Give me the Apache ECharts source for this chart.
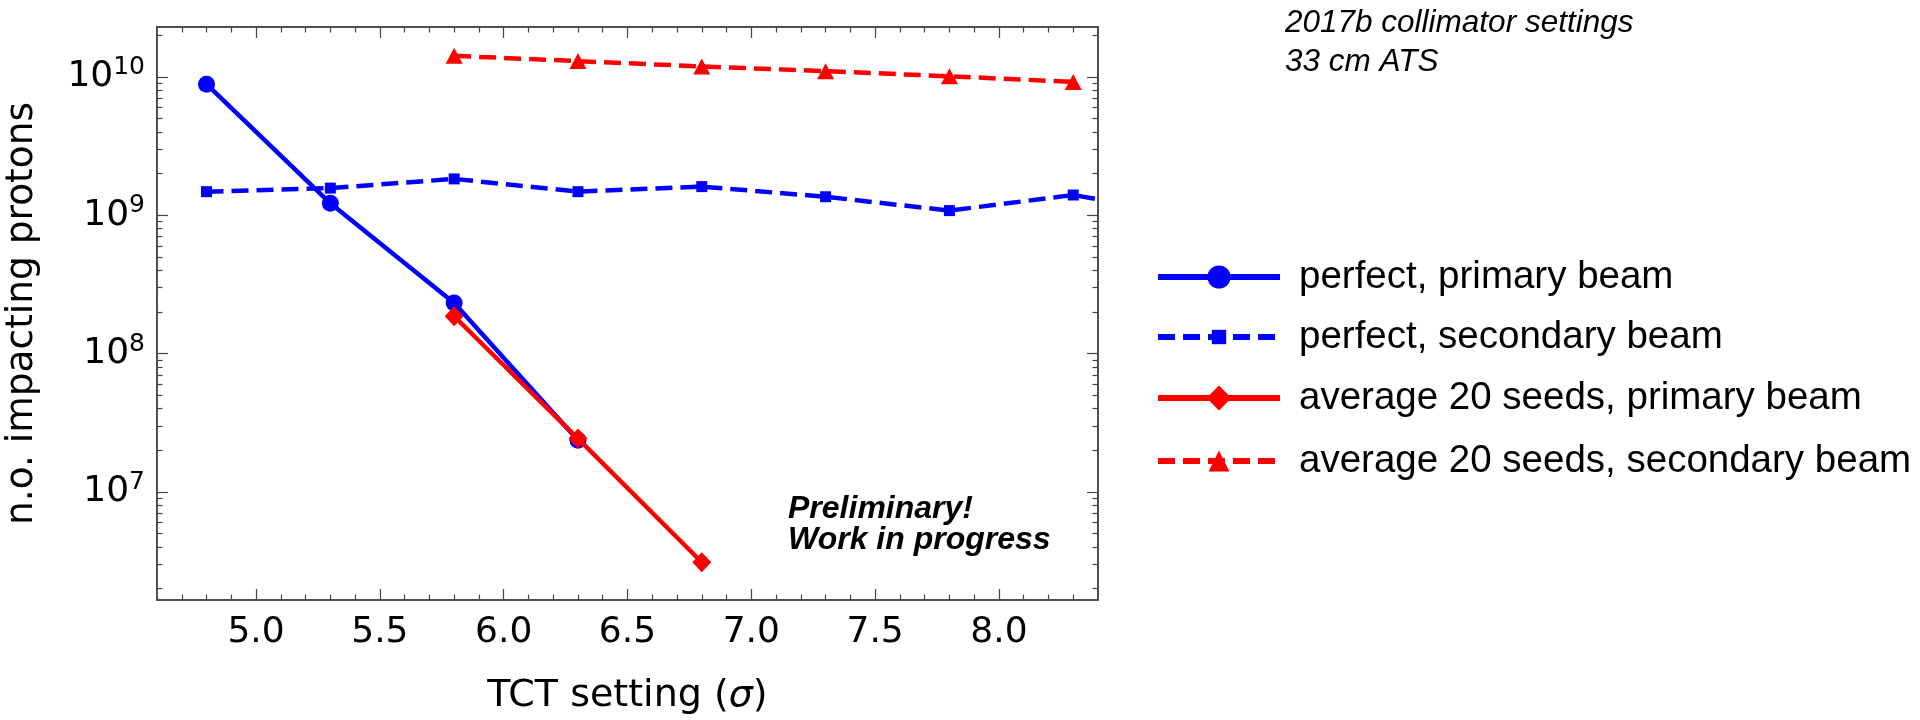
<!DOCTYPE html>
<html><head><meta charset="utf-8">
<script src="https://cdn.jsdelivr.net/npm/echarts@6/dist/echarts.min.js"></script>
<style>html,body{margin:0;padding:0;background:#fff}#c{width:1920px;height:720px}</style>
</head><body><div id="c"></div>
<script>
// ---- data ----
const perfPrimaryX = [4.8, 5.3, 5.8, 6.3];
const perfPrimaryY = [8.86e9, 1.22e9, 2.32e8, 2.36e7];
const perfSecondaryX = [4.8, 5.3, 5.8, 6.3, 6.8, 7.3, 7.8, 8.3, 8.8];
const perfSecondaryY = [1.48e9, 1.57e9, 1.83e9, 1.48e9, 1.61e9, 1.36e9, 1.08e9, 1.40e9, 0.98e9];
const avgPrimaryX = [5.8, 6.3, 6.8];
const avgPrimaryY = [1.86e8, 2.43e7, 3.1e6];
const avgSecondaryX = [5.8, 6.3, 6.8, 7.3, 7.8, 8.3];
const avgSecondaryY = [1.42e10, 1.30e10, 1.19e10, 1.10e10, 1.01e10, 9.2e9];
const seriesNames = ['perfect, primary beam', 'perfect, secondary beam', 'average 20 seeds, primary beam', 'average 20 seeds, secondary beam'];
const xTickLabels = [5.0, 5.5, 6.0, 6.5, 7.0, 7.5, 8.0];
const yTickLabels = [1e7, 1e8, 1e9, 1e10];
const xMin = 4.6, xMax = 8.4;
const yMin = 1.654e6, yMax = 2.294e10;

// minor tick positions
const xMinorTicks = [];
for (let i = 47; i <= 83; i++) { if (i % 5 !== 0) xMinorTicks.push(i / 10); }
const yMinorTicks = [];
for (let e = 6; e <= 10; e++) { for (let m = 2; m <= 9; m++) { const v = m * Math.pow(10, e); if (v > yMin && v < yMax) yMinorTicks.push(v); } }

const pairs = (xs, ys) => xs.map((x, i) => [x, ys[i]]);
const AX = '#444';
const axisFont = 'DejaVu Sans';
const txtFont = "'Liberation Sans', Arial, sans-serif";

function xAx(pos, ticks, len, labels, name) {
  return {
    type: 'value', position: pos, min: xMin, max: xMax,
    axisLine: { show: true, onZero: false, lineStyle: { color: AX, width: 1.5 } },
    axisTick: { show: true, inside: true, length: len, customValues: ticks, lineStyle: { color: AX, width: 1.2 } },
    axisLabel: labels ? { show: true, customValues: xTickLabels, margin: 15, fontFamily: axisFont, fontSize: 36, color: '#000', formatter: v => v.toFixed(1) } : { show: false },
    splitLine: { show: false },
    name: name || '', nameLocation: 'middle', nameGap: 77,
    nameTextStyle: { fontFamily: axisFont, fontSize: 38, color: '#000', lineHeight: 38,
      rich: { i: { fontFamily: axisFont, fontSize: 38, fontStyle: 'italic', color: '#000' } } }
  };
}
function yAx(pos, ticks, len, labels, name) {
  return {
    type: 'log', logBase: 10, position: pos, min: yMin, max: yMax,
    axisLine: { show: true, onZero: false, lineStyle: { color: AX, width: 1.5 } },
    axisTick: { show: true, inside: true, length: len, customValues: ticks, lineStyle: { color: AX, width: 1.2 } },
    axisLabel: labels ? {
      show: true, customValues: yTickLabels, margin: 12,
      formatter: v => '{b|10}{s|' + Math.round(Math.log10(v)) + '}',
      rich: {
        b: { fontFamily: axisFont, fontSize: 36, lineHeight: 44, color: '#000' },
        s: { fontFamily: axisFont, fontSize: 25, lineHeight: 22, verticalAlign: 'top', color: '#000' }
      }
    } : { show: false },
    splitLine: { show: false }, minorSplitLine: { show: false },
    name: name || '', nameLocation: 'middle', nameGap: 116,
    nameTextStyle: { fontFamily: axisFont, fontSize: 37.5, color: '#000' }
  };
}

const legendRows = [
  { name: seriesNames[0], center: 277, h: 29 },
  { name: seriesNames[1], center: 337, h: 18 },
  { name: seriesNames[2], center: 398, h: 31 },
  { name: seriesNames[3], center: 461, h: 26 }
];

const chart = echarts.init(document.getElementById('c'), null, { renderer: 'canvas' });
chart.setOption({
  animation: false,
  backgroundColor: '#fff',
  grid: { left: 157, right: 822, top: 27, bottom: 119, containLabel: false },
  xAxis: [
    xAx('bottom', xTickLabels, 11, true, 'TCT setting ({i|σ})'),
    xAx('bottom', xMinorTicks, 5.5, false),
    xAx('top', xTickLabels, 11, false),
    xAx('top', xMinorTicks, 5.5, false)
  ],
  yAxis: [
    yAx('left', yTickLabels, 11, true, 'n.o. impacting protons'),
    yAx('left', yMinorTicks, 5.5, false),
    yAx('right', yTickLabels, 11, false),
    yAx('right', yMinorTicks, 5.5, false)
  ],
  legend: legendRows.map(r => ({
    data: [r.name], orient: 'vertical', left: 1155, top: r.center - 20, padding: 0,
    itemWidth: 122, itemHeight: r.h, selectedMode: false,
    lineStyle: { width: 6 },
    textStyle: { fontFamily: txtFont, fontSize: 38.5, lineHeight: 40, color: '#000', padding: [0, 0, 0, 14] }
  })),
  graphic: [
    { type: 'text', left: 1285, top: 22 - 18, style: { text: '2017b collimator settings\n33 cm ATS', font: 'italic 31.5px ' + txtFont, fill: '#000', lineHeight: 38.5 } },
    { type: 'text', left: 788, top: 510 - 17, style: { text: 'Preliminary!\nWork in progress', font: 'italic bold 32px ' + txtFont, fill: '#000', lineHeight: 31 } }
  ],
  series: [
    { name: seriesNames[1], type: 'line', data: pairs(perfSecondaryX, perfSecondaryY), symbol: 'rect', symbolSize: 11,
      color: '#0000ff', lineStyle: { color: '#0000ff', width: 4.5, type: [17, 8] }, itemStyle: { color: '#0000ff' }, z: 2 },
    { name: seriesNames[3], type: 'line', data: pairs(avgSecondaryX, avgSecondaryY), symbol: 'triangle', symbolSize: [17, 16],
      color: '#ff0000', lineStyle: { color: '#ff0000', width: 4.5, type: [17, 8] }, itemStyle: { color: '#ff0000' }, z: 2 },
    { name: seriesNames[0], type: 'line', data: pairs(perfPrimaryX, perfPrimaryY), symbol: 'circle', symbolSize: 17,
      color: '#0000ff', lineStyle: { color: '#0000ff', width: 4.5 }, itemStyle: { color: '#0000ff' }, z: 3 },
    { name: seriesNames[2], type: 'line', data: pairs(avgPrimaryX, avgPrimaryY), symbol: 'diamond', symbolSize: [19, 20],
      color: '#ff0000', lineStyle: { color: '#ff0000', width: 4.5 }, itemStyle: { color: '#ff0000' }, z: 4 }
  ]
});
</script></body></html>
